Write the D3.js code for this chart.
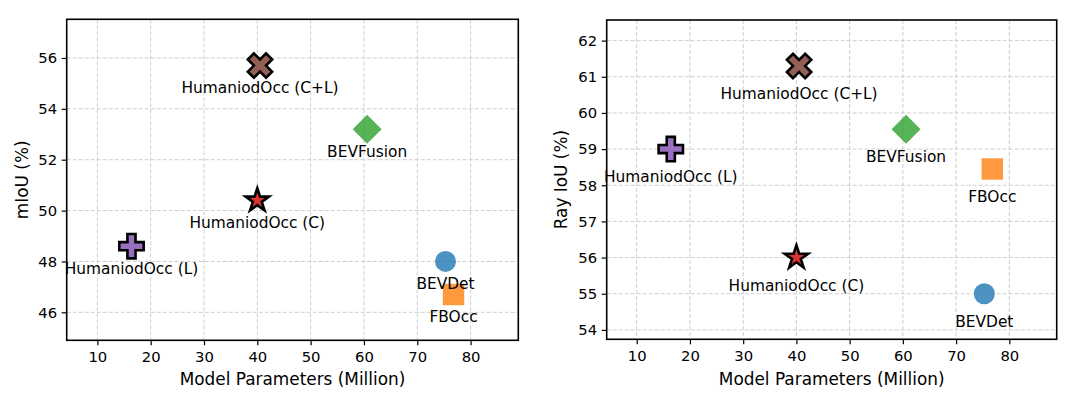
<!DOCTYPE html>
<html>
<head>
<meta charset="utf-8">
<script src="https://cdn.jsdelivr.net/npm/d3@7"></script>
<style>
  html, body { margin: 0; padding: 0; background: #fff; }
  svg { display: block; font-family: "DejaVu Sans", sans-serif; }
</style>
</head>
<body>
<svg id="chart" width="1080" height="394"></svg>
<script>
// ---- data ----
const methods = ["BEVDet", "FBOcc", "BEVFusion", "HumaniodOcc (C)", "HumaniodOcc (L)", "HumaniodOcc (C+L)"];
const params  = [75.3, 76.8, 60.6, 40.0, 16.4, 40.5];
const mIoU    = [48.0, 46.7, 53.2, 50.4, 48.6, 55.7];
const rayIoU  = [55.0, 58.45, 59.55, 56.0, 59.0, 61.3];
const xTicks  = [10, 20, 30, 40, 50, 60, 70, 80];
const yTicksMIoU = [46, 48, 50, 52, 54, 56];
const yTicksRay  = [54, 55, 56, 57, 58, 59, 60, 61, 62];

// ---- styles ----
const colors  = ["#1f77b4", "#ff7f0e", "#2ca02c", "#d62728", "#9467bd", "#8c564b"];
const shapes  = ["circle", "square", "diamond", "star", "plus", "x"];
const edged   = [false, false, false, true, true, true];

const svg = d3.select("#chart");
svg.append("rect").attr("width", 1080).attr("height", 394).attr("fill", "#fff");

const panels = [
  { left: 66.7, right: 518.3, top: 19.3, bottom: 340.3, xDom: [4.25, 88.95], yDom: [44.9, 57.52],
    yTicks: yTicksMIoU, values: mIoU, ylabel: "mIoU (%)", ylabelX: 22.5, labelOff: 22 },
  { left: 606.7, right: 1056.7, top: 20, bottom: 339.3, xDom: [4.36, 88.9], yDom: [53.74, 62.57],
    yTicks: yTicksRay, values: rayIoU, ylabel: "Ray IoU (%)", ylabelX: 561.3, labelOff: 27.5 }
];

function symbolPath(shape) {
  switch (shape) {
    case "circle":  return d3.symbol(d3.symbolCircle, 346)();
    case "square":  return d3.symbol(d3.symbolSquare, 460)();
    case "diamond": return d3.symbol(d3.symbolSquare, 420)();
    case "star":    return d3.symbol(d3.symbolStar, 170)();
    case "plus":    return d3.symbol(d3.symbolCross, 330)();
    case "x":       return d3.symbol(d3.symbolCross, 370)();
  }
}
function symbolRot(shape) {
  return (shape === "diamond" || shape === "x") ? 45 : 0;
}

panels.forEach(p => {
  const x = d3.scaleLinear().domain(p.xDom).range([p.left, p.right]);
  const y = d3.scaleLinear().domain(p.yDom).range([p.bottom, p.top]);
  const g = svg.append("g");

  // grid
  const grid = g.append("g").attr("stroke", "#cfcfcf").attr("stroke-width", 1)
    .attr("stroke-dasharray", "4,2");
  grid.selectAll("line.vx").data(xTicks).join("line")
    .attr("x1", d => x(d)).attr("x2", d => x(d))
    .attr("y1", p.top).attr("y2", p.bottom);
  grid.selectAll("line.hy").data(p.yTicks).join("line")
    .attr("x1", p.left).attr("x2", p.right)
    .attr("y1", d => y(d)).attr("y2", d => y(d));

  // axes
  const xAxis = g.append("g").attr("transform", `translate(0,${p.bottom})`)
    .call(d3.axisBottom(x).tickValues(xTicks).tickSize(5).tickPadding(6.5).tickFormat(d3.format("d")));
  const yAxis = g.append("g").attr("transform", `translate(${p.left},0)`)
    .call(d3.axisLeft(y).tickValues(p.yTicks).tickSize(5).tickPadding(4.5).tickFormat(d3.format("d")));
  [xAxis, yAxis].forEach(a => {
    a.select(".domain").remove();
    a.selectAll(".tick line").attr("stroke", "#000").attr("stroke-width", 1.2);
    a.selectAll(".tick text").attr("fill", "#000").style("font-size", "14.8px")
      .style("font-family", "'DejaVu Sans', sans-serif");
  });

  // frame
  g.append("rect").attr("x", p.left).attr("y", p.top)
    .attr("width", p.right - p.left).attr("height", p.bottom - p.top)
    .attr("fill", "none").attr("stroke", "#000").attr("stroke-width", 1.6);

  // axis labels
  g.append("text").attr("x", (p.left + p.right) / 2).attr("y", 385)
    .attr("text-anchor", "middle").style("font-size", "16.9px").attr("fill", "#000")
    .text("Model Parameters (Million)");
  g.append("text")
    .attr("transform", `translate(${p.ylabelX},${(p.top + p.bottom) / 2}) rotate(-90)`)
    .attr("text-anchor", "middle").attr("dy", "0.35em").style("font-size", "16.9px").attr("fill", "#000")
    .text(p.ylabel);

  // markers
  const pts = methods.map((m, i) => ({ m, x: params[i], y: p.values[i], i }));
  g.selectAll("path.pt").data(pts).join("path")
    .attr("class", "pt")
    .attr("d", d => symbolPath(shapes[d.i]))
    .attr("transform", d => `translate(${x(d.x)},${y(d.y)}) rotate(${symbolRot(shapes[d.i])})`)
    .attr("fill", d => colors[d.i]).attr("fill-opacity", d => edged[d.i] ? 0.95 : 0.8)
    .attr("stroke", d => edged[d.i] ? "#000" : "none")
    .attr("stroke-width", 2.6).attr("stroke-linejoin", "miter");

  // labels
  g.selectAll("text.lbl").data(pts).join("text")
    .attr("class", "lbl")
    .attr("x", d => x(d.x)).attr("y", d => y(d.y) + p.labelOff)
    .attr("dy", "0.36em").attr("text-anchor", "middle")
    .style("font-size", "15.4px").attr("fill", "#000")
    .text(d => d.m);
});
</script>
</body>
</html>
